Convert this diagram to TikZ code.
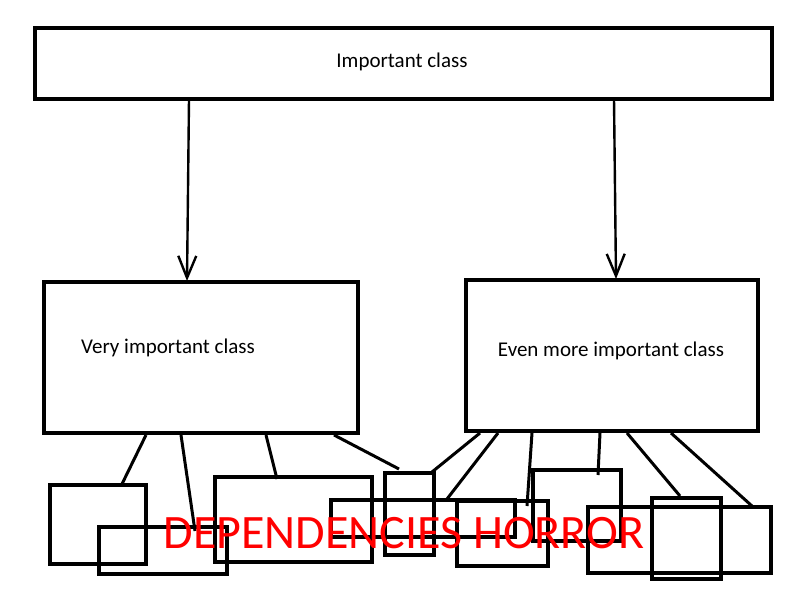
\documentclass[tikz,border=0pt]{standalone}
\usepackage{fontspec}
\setmainfont{Carlito}
\usetikzlibrary{arrows.meta}
\begin{document}
\begin{tikzpicture}[x=1pt,y=-1pt,
  bigbox/.style={draw=black,line width=4.2pt,rectangle,inner sep=0pt,outer sep=0pt,anchor=north west,fill=none},
  smallbox/.style={draw=black,line width=4.6pt,rectangle,inner sep=0pt,outer sep=0pt,anchor=north west},
  dep/.style={draw=black,line width=3pt},
  arr/.style={draw=black,line width=2.4pt,-{Straight Barb[length=22pt,width=18pt,line width=2.4pt]}},
  lbl/.style={font=\fontsize{21}{24}\selectfont,inner sep=0pt}]
\useasboundingbox (0,0) rectangle (800,600);
% main boxes
\node[bigbox,minimum width=737pt,minimum height=71pt] (top) at (35,28) {};
\node[bigbox,minimum width=314pt,minimum height=151pt] (left) at (44,282) {};
\node[bigbox,minimum width=292pt,minimum height=151pt] (right) at (466,280) {};
\node[lbl] (toplbl) at (402,62) {Important class};
\node[lbl,anchor=west] (leftlbl) at (81,348) {Very important class};
\node[lbl] (rightlbl) at (611,351) {Even more important class};
% arrows
\coordinate (a1s) at (189,99);
\coordinate (a1e) at (187,281);
\coordinate (a2s) at (614,99);
\coordinate (a2e) at (616,279);
\draw[arr] (a1s) -- (a1e);
\draw[arr] (a2s) -- (a2e);
% small boxes
\node[smallbox,minimum width=96pt,minimum height=79pt] (bA) at (50,485) {};
\node[smallbox,minimum width=128pt,minimum height=47pt] (bB) at (99,527) {};
\node[smallbox,minimum width=157pt,minimum height=85pt] (bC) at (215,477) {};
\node[smallbox,minimum width=184pt,minimum height=37pt] (bE) at (331,500) {};
\node[smallbox,minimum width=49pt,minimum height=82pt] (bD) at (385,473) {};
\node[smallbox,minimum width=91pt,minimum height=65pt] (bF) at (457,501) {};
\node[smallbox,minimum width=88pt,minimum height=71pt] (bG) at (533,470) {};
\node[smallbox,minimum width=183pt,minimum height=66pt] (bH) at (588,507) {};
\node[smallbox,minimum width=69pt,minimum height=81pt] (bI) at (652,498) {};
% connector endpoints
\coordinate (l1s) at (146,435); \coordinate (l1e) at (122,484);
\coordinate (l2s) at (181,435); \coordinate (l2e) at (195,531);
\coordinate (l3s) at (266,435); \coordinate (l3e) at (277,479);
\coordinate (l4s) at (334,435); \coordinate (l4e) at (399,469);
\coordinate (r1s) at (480,433); \coordinate (r1e) at (432,472);
\coordinate (r2s) at (498,433); \coordinate (r2e) at (447,499);
\coordinate (r3s) at (532,433); \coordinate (r3e) at (527,506);
\coordinate (r4s) at (600,433); \coordinate (r4e) at (598,475);
\coordinate (r5s) at (627,433); \coordinate (r5e) at (680,496);
\coordinate (r6s) at (671,433); \coordinate (r6e) at (752,506);
\draw[dep] (l1s) -- (l1e);
\draw[dep] (l2s) -- (l2e);
\draw[dep] (l3s) -- (l3e);
\draw[dep] (l4s) -- (l4e);
\draw[dep] (r1s) -- (r1e);
\draw[dep] (r2s) -- (r2e);
\draw[dep] (r3s) -- (r3e);
\draw[dep] (r4s) -- (r4e);
\draw[dep] (r5s) -- (r5e);
\draw[dep] (r6s) -- (r6e);
% title
\node[text=red,font=\fontsize{48}{52}\selectfont,inner sep=0pt,anchor=base] (horror) at (404,548) {DEPENDENCIES HORROR};
\end{tikzpicture}
\end{document}
